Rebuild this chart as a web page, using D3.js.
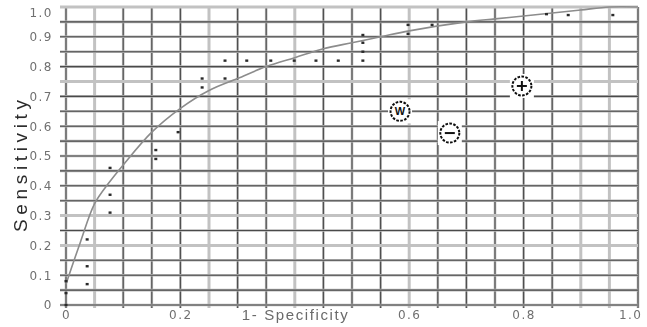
<!DOCTYPE html>
<html>
<head>
<meta charset="utf-8">
<script src="https://cdn.jsdelivr.net/npm/d3@7"></script>
<style>
    html, body { margin: 0; padding: 0; background: #fff; }
    svg { display: block; }
</style>
</head>
<body>
<div id="chart"></div>
<script>
// ROC curve
var curveFpr = [0, 0.025, 0.05, 0.075, 0.1, 0.15, 0.2, 0.25, 0.3, 0.35, 0.4, 0.45, 0.5, 0.55, 0.6, 0.7, 0.75, 0.8, 0.85, 0.9, 0.95, 1.0];
var curveTpr = [0.07, 0.21, 0.34, 0.41, 0.47, 0.58, 0.66, 0.72, 0.76, 0.80, 0.83, 0.86, 0.88, 0.90, 0.92, 0.95, 0.96, 0.97, 0.98, 0.99, 1.0, 1.0];

// observed operating points (small dots)
var pointFpr = [0, 0, 0, 0.037, 0.037, 0.037, 0.077, 0.077, 0.077, 0.157, 0.157, 0.196, 0.238, 0.238, 0.278, 0.278, 0.316, 0.358, 0.399, 0.437, 0.476, 0.519, 0.519, 0.519, 0.519, 0.598, 0.598, 0.64, 0.84, 0.878, 0.956];
var pointTpr = [0.0, 0.04, 0.08, 0.22, 0.13, 0.07, 0.46, 0.37, 0.31, 0.52, 0.49, 0.58, 0.76, 0.73, 0.82, 0.76, 0.82, 0.82, 0.82, 0.82, 0.82, 0.82, 0.85, 0.88, 0.906, 0.94, 0.91, 0.94, 0.976, 0.973, 0.973];

// circled markers
var markerSymbols = ['W', '-', '+'];
var markerFpr = [0.584, 0.671, 0.797];
var markerTpr = [0.65, 0.577, 0.735];

// axis ticks
var xTickValues = [0, 0.2, 0.6, 0.8, 1.0];
var xTickLabels = ['0', '0.2', '0.6', '0.8', '1.0'];
var yTickValues = [0, 0.1, 0.2, 0.3, 0.4, 0.5, 0.6, 0.7, 0.8, 0.9, 1.0];
var yTickLabels = ['0', '0.1', '0.2', '0.3', '0.4', '0.5', '0.6', '0.7', '0.8', '0.9', '1.0'];
var gridValues = d3.range(0, 21).map(function(i) { return i / 20; });

var width = 647, height = 327;

var x = d3.scaleLinear().domain([0, 1]).range([66, 638]);
var y = d3.scaleLinear().domain([0, 1]).range([305, 7]);

var svg = d3.select('#chart').append('svg')
    .attr('width', width)
    .attr('height', height)
    .attr('viewBox', '0 0 ' + width + ' ' + height);

//slight blur on text/marks so they look like the scan
var defs = svg.append('defs');
defs.append('filter')
    .attr('id', 'softer')
    .attr('x', '-30%').attr('y', '-30%')
    .attr('width', '160%').attr('height', '160%')
    .append('feGaussianBlur').attr('stdDeviation', 0.35);

// grid - some of the lines come out faded on the scan.
// no filter here (it drops the lines), a wide pale stroke under a dark one fakes the blur
var fadedV = [1, 5, 8, 12, 18, 19];
var fadedH = [4, 6, 15, 20];

var grid = svg.append('g');

function drawGrid(cls, faded, setPos) {
    // pale halo
    setPos(grid.selectAll('line.' + cls + '-halo')
        .data(gridValues)
        .enter().append('line')
        .attr('class', cls + '-halo'))
        .attr('stroke', function(d, i) { return faded.indexOf(i) >= 0 ? '#c2c2c2' : '#b8b8b8'; })
        .attr('stroke-width', function(d, i) { return faded.indexOf(i) >= 0 ? 3 : 2.6; });
    // dark core
    setPos(grid.selectAll('line.' + cls)
        .data(gridValues.filter(function(d, i) { return faded.indexOf(i) < 0; }))
        .enter().append('line')
        .attr('class', cls))
        .attr('stroke', '#4a4a4a')
        .attr('stroke-width', 1.1);
}

drawGrid('v', fadedV, function(sel) {
    return sel
        .attr('x1', function(d) { return x(d); })
        .attr('x2', function(d) { return x(d); })
        .attr('y1', y(1))
        .attr('y2', y(0) + 3);
});

drawGrid('h', fadedH, function(sel) {
    return sel
        .attr('x1', x(0) - 6)
        .attr('x2', x(1))
        .attr('y1', function(d) { return y(d); })
        .attr('y2', function(d) { return y(d); });
});

// fitted ROC curve
var line = d3.line()
    .x(function(d) { return x(d[0]); })
    .y(function(d) { return y(d[1]); })
    .curve(d3.curveCatmullRom.alpha(0.5));

svg.append('path')
    .datum(d3.zip(curveFpr, curveTpr))
    .attr('d', line)
    .attr('fill', 'none')
    .attr('stroke', '#8c8c8c')
    .attr('stroke-width', 1.6)
    .attr('filter', 'url(#softer)');

// dots
svg.append('g')
    .attr('filter', 'url(#softer)')
    .selectAll('rect')
    .data(d3.zip(pointFpr, pointTpr))
    .enter().append('rect')
    .attr('x', function(d) { return x(d[0]) - 1.5; })
    .attr('y', function(d) { return y(d[1]) - 1.2; })
    .attr('width', 3)
    .attr('height', 2.4)
    .attr('fill', '#2a2a2a');

// circled markers
var markers = svg.append('g')
    .selectAll('g')
    .data(d3.zip(markerFpr, markerTpr, markerSymbols))
    .enter().append('g')
    .attr('transform', function(d) { return 'translate(' + x(d[0]) + ',' + y(d[1]) + ')'; });

markers.append('rect')
    .attr('x', -12).attr('y', -12)
    .attr('width', 24).attr('height', 24)
    .attr('fill', '#fff');

markers.append('circle')
    .attr('r', 9.5)
    .attr('fill', '#fff')
    .attr('stroke', '#111')
    .attr('stroke-width', 2)
    .attr('stroke-dasharray', '2.6,1.4')
    .attr('filter', 'url(#softer)');

markers.each(function(d) {
    var g = d3.select(this);
    if (d[2] === 'W') {
        g.append('text')
            .attr('y', 4)
            .attr('text-anchor', 'middle')
            .style('font-family', 'Liberation Sans, Arial, sans-serif')
            .style('font-weight', 'bold')
            .style('font-size', '11px')
            .attr('fill', '#111')
            .text('W');
    } else {
        g.append('line')
            .attr('x1', -5).attr('x2', 5)
            .attr('stroke', '#111').attr('stroke-width', 2);
        if (d[2] === '+') {
            g.append('line')
                .attr('y1', -5).attr('y2', 5)
                .attr('stroke', '#111').attr('stroke-width', 2);
        }
    }
});

// axes (labels only, the grid does the rest)
var yAxis = d3.axisLeft(y)
    .tickValues(yTickValues)
    .tickFormat(function(d, i) { return yTickLabels[i]; })
    .tickSize(0)
    .tickPadding(0);

var yAxisG = svg.append('g')
    .attr('transform', 'translate(53,0)')
    .attr('filter', 'url(#softer)')
    .call(yAxis);

var xAxis = d3.axisBottom(x)
    .tickValues(xTickValues)
    .tickFormat(function(d, i) { return xTickLabels[i]; })
    .tickSize(0)
    .tickPadding(5);

var xAxisG = svg.append('g')
    .attr('transform', 'translate(0,' + y(0) + ')')
    .attr('filter', 'url(#softer)')
    .call(xAxis);

[yAxisG, xAxisG].forEach(function(g) {
    g.select('.domain').remove();
    g.selectAll('text')
        .attr('fill', '#707070')
        .style('font-family', 'DejaVu Sans, sans-serif')
        .style('font-size', '12px')
        .style('letter-spacing', '1.5px');
});

//top label sits a bit lower on the original
yAxisG.selectAll('.tick').filter(function(d) { return d === 1; })
    .select('text').attr('dy', '0.75em');

//last x label would run off the page
xAxisG.selectAll('.tick').filter(function(d) { return d === 1; })
    .select('text').attr('text-anchor', 'end').attr('x', 4);

// axis titles
svg.append('text')
    .attr('x', x(0.4))
    .attr('y', 320)
    .attr('text-anchor', 'middle')
    .attr('textLength', 106)
    .attr('lengthAdjust', 'spacing')
    .attr('fill', '#6a6a6a')
    .attr('filter', 'url(#softer)')
    .style('font-family', 'Liberation Sans, Arial, sans-serif')
    .style('font-size', '15px')
    .text('1- Specificity');

svg.append('text')
    .attr('transform', 'translate(27,166) rotate(-90)')
    .attr('text-anchor', 'middle')
    .attr('textLength', 132)
    .attr('lengthAdjust', 'spacing')
    .attr('fill', '#2a2a2a')
    .attr('filter', 'url(#softer)')
    .style('font-family', 'Liberation Sans, Arial, sans-serif')
    .style('font-size', '19px')
    .text('Sensitivity');
</script>
</body>
</html>
